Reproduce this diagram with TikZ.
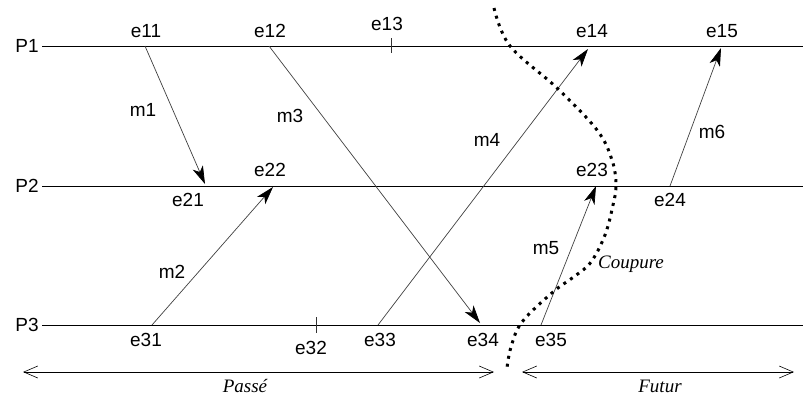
\documentclass[tikz,border=0pt]{standalone}
\usepackage{fontspec}
\setmainfont{Liberation Sans}
\newfontfamily\serifit{Liberation Serif}
\usetikzlibrary{arrows.meta}
\begin{document}
\begin{tikzpicture}[x=1pt,y=-1pt,
  lbl/.style={font=\fontsize{19}{19}\selectfont, inner sep=0pt},
  itl/.style={font=\serifit\itshape\fontsize{19}{19}\selectfont, inner sep=0pt},
  proc/.style={line width=1pt, black},
  msg/.style={line width=0.7pt, black!75, -{Stealth[length=18pt,width=11pt,inset=5pt,black]}},
  tick/.style={line width=0.8pt, black!80},
  cut/.style={line width=3pt, black, dash pattern=on 3pt off 5pt},
  span/.style={line width=0.8pt, black, {Straight Barb[length=14pt,width=12pt,line width=0.6pt]}-{Straight Barb[length=14pt,width=12pt,line width=0.6pt]}}
]
\useasboundingbox (0,0) rectangle (803,397);
% processes
\node[lbl] (P1) at (27,46) {P1};
\node[lbl] (P2) at (27,186) {P2};
\node[lbl] (P3) at (27,325) {P3};
\coordinate (P1r) at (803,46);
\coordinate (P2r) at (803,186);
\coordinate (P3r) at (803,325);
\draw[proc] (42,46) coordinate (P1l) -- (P1r);
\draw[proc] (42,186) coordinate (P2l) -- (P2r);
\draw[proc] (42,325) coordinate (P3l) -- (P3r);
% events
\coordinate (e11) at (145,46);
\coordinate (e12) at (269,46);
\coordinate (e14) at (588,49);
\coordinate (e15) at (721,48);
\coordinate (e21) at (205,184);
\coordinate (e22) at (273,187);
\coordinate (e23) at (596,186);
\coordinate (e24) at (670,186);
\coordinate (e31) at (152,325);
\coordinate (e33) at (378,325);
\coordinate (e34) at (480,323);
\coordinate (e35) at (541,325);
% ticks
\coordinate (e13a) at (391,38); \coordinate (e13b) at (391,53);
\coordinate (e32a) at (316,317); \coordinate (e32b) at (316,333);
\draw[tick] (e13a) -- (e13b);
\draw[tick] (e32a) -- (e32b);
% event labels
\node[lbl] (l11) at (146,31) {e11};
\node[lbl] (l12) at (270,31) {e12};
\node[lbl] (l13) at (387,24) {e13};
\node[lbl] (l14) at (592,31) {e14};
\node[lbl] (l15) at (722,31) {e15};
\node[lbl] (l21) at (188,200) {e21};
\node[lbl] (l22) at (270,170) {e22};
\node[lbl] (l23) at (592,170) {e23};
\node[lbl] (l24) at (670,200) {e24};
\node[lbl] (l31) at (146,340) {e31};
\node[lbl] (l32) at (311,348) {e32};
\node[lbl] (l33) at (380,340) {e33};
\node[lbl] (l34) at (483,340) {e34};
\node[lbl] (l35) at (551,340) {e35};
% messages
\draw[msg] (e11) -- (e21);
\draw[msg] (e12) -- (e34);
\draw[msg] (e31) -- (e22);
\draw[msg] (e33) -- (e14);
\draw[msg] (e35) -- (e23);
\draw[msg] (e24) -- (e15);
\node[lbl] (m1) at (143,110) {m1};
\node[lbl] (m2) at (172,272) {m2};
\node[lbl] (m3) at (290,116) {m3};
\node[lbl] (m4) at (487,140) {m4};
\node[lbl] (m5) at (546,248) {m5};
\node[lbl] (m6) at (712,132) {m6};
% cut
\draw[cut] plot[smooth, tension=0.6] coordinates {(494,8) (510,46) (557,88) (597,130) (612,160) (616,185) (613,205) (605,235) (591,262) (575,276) (553,292) (522,322) (511,347) (507,368)};
\node[itl] (coupure) at (631,264) {Coupure};
% past / future
\coordinate (pa) at (23,372); \coordinate (pb) at (494,372);
\coordinate (fa) at (522,372); \coordinate (fb) at (794,372);
\draw[span] (pa) -- (pb);
\draw[span] (fa) -- (fb);
\node[itl] (passe) at (245,386) {Passé};
\node[itl] (futur) at (660,386) {Futur};
\end{tikzpicture}
\end{document}
